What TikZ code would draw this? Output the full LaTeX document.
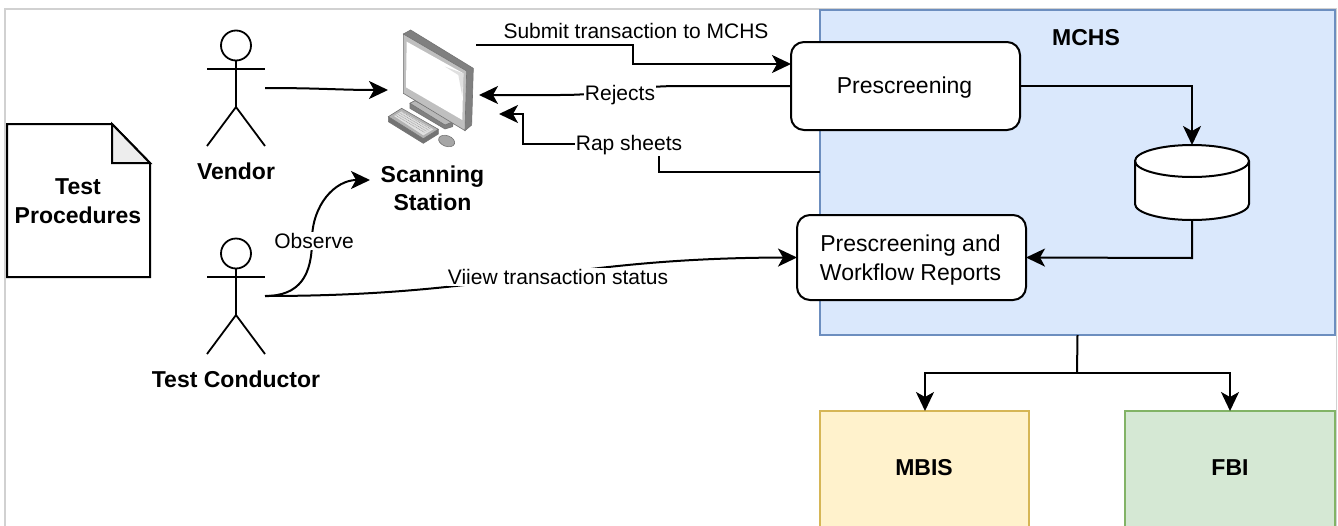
\documentclass[tikz,border=0pt]{standalone}
\usepackage{fontspec}
\setmainfont{Liberation Sans}
\usetikzlibrary{arrows.meta,arrows}

\definecolor{mchsfill}{HTML}{DAE8FC}
\definecolor{mchsline}{HTML}{6C8EBF}
\definecolor{mbisfill}{HTML}{FFF2CC}
\definecolor{mbisline}{HTML}{D6B656}
\definecolor{fbifill}{HTML}{D5E8D4}
\definecolor{fbiline}{HTML}{82B366}

\begin{document}
\begin{tikzpicture}[x=1pt,y=-1pt,line width=2pt,font=\fontsize{23}{29}\selectfont]

\tikzset{edge/.style = {->,> = {Stealth[length=19pt,width=18pt,inset=5pt]}}}
\tikzset{stick/.style = {line width=1.8pt}}
\tikzset{proc/.style = {shape=rectangle,draw,fill=white,rounded corners=13pt,outer sep=0pt}}
\tikzset{system/.style = {shape=rectangle,draw,outer sep=0pt,line width=1.6pt}}
\tikzset{title/.style = {align=center,font=\fontsize{23}{28}\selectfont\bfseries}}
\tikzset{tag/.style = {fill=white,inner sep=1pt,font=\fontsize{21}{26}\selectfont}}

\clip (0,0) rectangle (1338,525);
\fill[white] (0,0) rectangle (1338,525);
\draw[line width=1.2pt,black!18] (5,527) -- (5,9) -- (1336.5,9) -- (1336.5,527);

% systems
\node[system,fill=mchsfill,draw=mchsline,minimum width=515pt,minimum height=325pt] (mchs) at (1077.5,172.5) {};
\node[title] (mchslabel) at (1086,38) {MCHS};
\node[system,fill=mbisfill,draw=mbisline,minimum width=209pt,minimum height=130pt] (mbis) at (924.5,476) {};
\node[title] (mbislabel) at (924,468) {MBIS};
\node[system,fill=fbifill,draw=fbiline,minimum width=210pt,minimum height=130pt] (fbi) at (1230,476) {};
\node[title] (fbilabel) at (1230,468) {FBI};

\node[proc,minimum width=229pt,minimum height=88pt] (prescreen) at (905.5,86) {};
\node (prescreenlabel) at (904.5,88) {Prescreening};
\node[proc,minimum width=229pt,minimum height=85pt] (reports) at (911.5,257.5) {};
\node[align=center] (reportslabel) at (910.5,260) {Prescreening and\\Workflow Reports};

% data store
\node[minimum width=114pt,minimum height=75pt,inner sep=0pt,outer sep=0pt] (store) at (1192,182.5) {};
\draw[fill=white] (1135,161) -- (1135,204) arc[start angle=180,end angle=0,x radius=57,y radius=16] -- (1249,161) arc[start angle=0,end angle=-180,x radius=57,y radius=16] -- cycle;
\draw (1135,161) arc[start angle=180,end angle=0,x radius=57,y radius=16];

% document
\draw[fill=white] (7,124) -- (112,124) -- (150,163) -- (150,277) -- (7,277) -- cycle;
\draw[fill=black!7] (112,124) -- (150,163) -- (112,163) -- cycle;
\node[title,font=\fontsize{23}{29}\selectfont\bfseries] (procedures) at (78,201.5) {Test\\Procedures};

% actors
\node[draw,shape=circle,stick,minimum size=30pt,inner sep=0pt,outer sep=0pt] (vendorhead) at (236,45.5) {};
\draw[stick] (vendorhead.south) -- (236,107) -- (207,146);
\draw[stick] (236,107) -- (265,146);
\draw[stick] (207,69) -- (265,69);
\node[title] (vendor) at (236,171) {Vendor};

\node[draw,shape=circle,stick,minimum size=30pt,inner sep=0pt,outer sep=0pt] (testerhead) at (236,253.5) {};
\draw[stick] (testerhead.south) -- (236,315) -- (207,354);
\draw[stick] (236,315) -- (265,354);
\draw[stick] (207,277) -- (265,277);
\node[title] (tester) at (236,379) {Test Conductor};

% scanning station
\begin{scope}[shift={(370,10)},x=0.3333pt,y=-0.3333pt,line width=0.6pt,draw=black!55]
\filldraw[fill=black!50] (100,72) -- (122,60) -- (310,175) -- (305,345) -- (285,362) -- cycle;
\filldraw[fill=black!50] (120,280) -- (135,272) -- (250,335) -- (248,350) -- (225,357) -- (120,295) -- cycle;
\filldraw[fill=black!28] (120,280) -- (135,272) -- (250,335) -- (225,345) -- cycle;
\filldraw[fill=black!25] (100,72) -- (290,183) -- (285,362) -- (100,250) -- cycle;
\fill[white] (110,95) -- (280,190) -- (277,330) -- (108,232) -- cycle;
\fill[black!12] (225,170) -- (280,190) -- (277,260) -- (265,195) -- cycle;
\filldraw[fill=black!55] (55,320) -- (55,335) -- (160,400) -- (205,372) -- (205,358) -- cycle;
\filldraw[fill=black!30] (55,320) -- (95,295) -- (205,358) -- (160,386) -- cycle;
\fill[black!12] (72,318) -- (95,304) -- (190,358) -- (160,376) -- cycle;
\foreach \k in {0,1,2,3}
  \draw[black!40,line width=0.5pt,dash pattern=on 1pt off 0.7pt] (77+\k*6,316-\k*3.5) -- (165-\k*-6,368-\k*3.5);
\filldraw[fill=black!35,rotate around={-20:(230,393)}] (230,393) ellipse (25 and 16);
\end{scope}
\node[title] (station) at (432.5,188.5) {Scanning\\Station};

% named ends
\coordinate (vendorout) at (265,88);
\coordinate (stationleft) at (388,90);
\coordinate (stationright) at (479,95);
\coordinate (stationlow) at (499,114);
\coordinate (stationtop) at (476,45);
\coordinate (testerout) at (265,296);
\coordinate (stationbelow) at (370,180);
\coordinate (submitin) at (791,64);
\coordinate (rapout) at (820,172);
\coordinate (mchsdown) at (1077,373);

\draw[edge] (vendorout) .. controls (320,88) and (340,90) .. (stationleft);
\draw[edge] (stationtop) -- (633,45) -- (633,64) -- (submitin);
\node[tag,fill=none] (submit) at (636,31) {Submit transaction to MCHS};

\draw[edge] (prescreen.west) -- (680,86) .. controls (630,86) and (610,95) .. (560,95) -- (stationright);
\node[tag] (rejects) at (620,95) {Rejects};

\draw[edge] (rapout) -- (659,172) -- (659,144) -- (523,144) -- (523,114) -- (stationlow);
\node[tag] (rapsheets) at (629,145) {Rap sheets};

\draw[edge] (testerout) .. controls (300,296) and (312,275) .. (312,240) .. controls (312,205) and (335,180) .. (stationbelow);
\node[tag] (observe) at (314,241) {Observe};

\draw[edge] (testerout) .. controls (500,296) and (560,258) .. (reports.west);
\node[tag] (view) at (558,277) {Viiew transaction status};

\draw[edge] (prescreen.east) -- (1192,86) -- (store.north);
\draw[edge] (store.south) -- (1192,258) -- (reports.east);
\draw (mchs.south) -- (mchsdown);
\draw[edge] (mchsdown) -- (925,373) -- (925,411);
\draw[edge] (mchsdown) -- (1230,373) -- (fbi.north);

\end{tikzpicture}
\end{document}
